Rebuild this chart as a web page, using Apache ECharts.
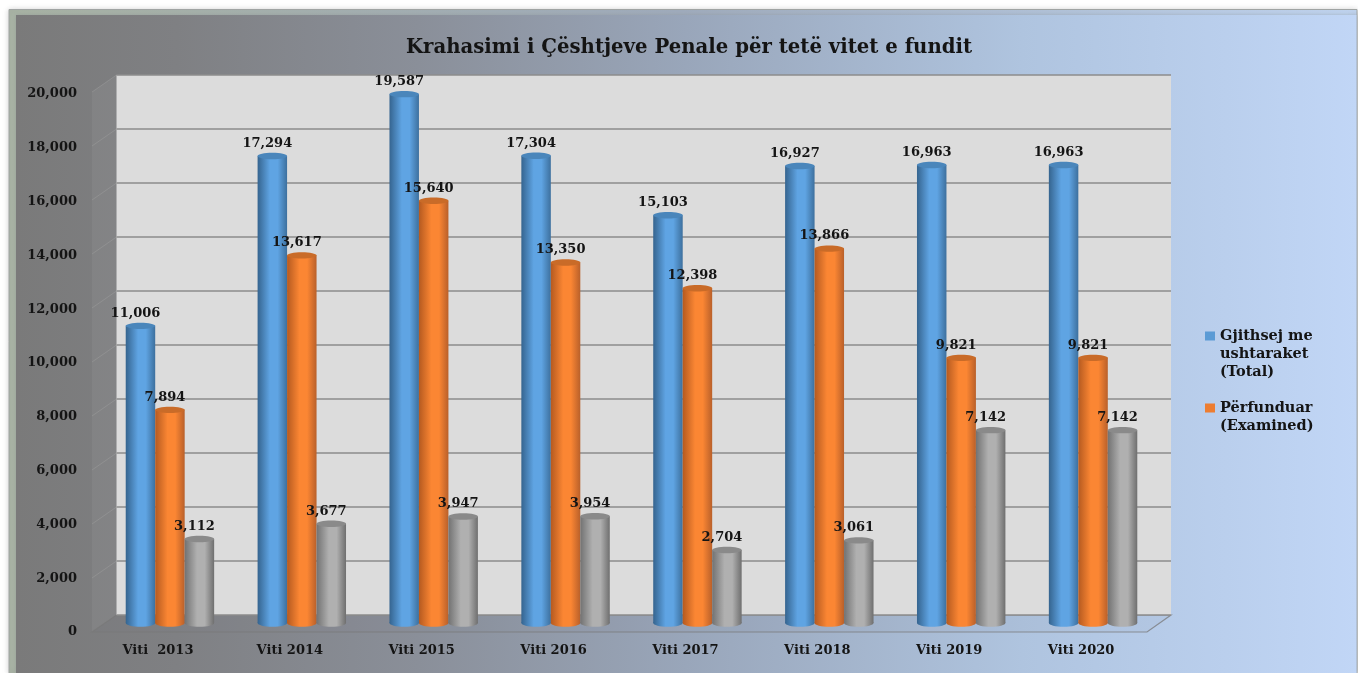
<!DOCTYPE html>
<html><head><meta charset="utf-8">
<style>html,body{margin:0;padding:0;background:#fff}#c{width:1358px;height:673px}</style>
<script src="https://cdn.jsdelivr.net/npm/echarts@6/dist/echarts.min.js"></script>
</head><body><div id="c"></div>
<script>
const categories = ["Viti  2013","Viti 2014","Viti 2015","Viti 2016","Viti 2017","Viti 2018","Viti 2019","Viti 2020"];
const totalValues = [11006,17294,19587,17304,15103,16927,16963,16963];
const examinedValues = [7894,13617,15640,13350,12398,13866,9821,9821];
const otherValues = [3112,3677,3947,3954,2704,3061,7142,7142];
const seriesNames = ["Gjithsej me\nushtaraket\n(Total)","Përfunduar\n(Examined)","Të tjera"];
const yTicks = [0,2000,4000,6000,8000,10000,12000,14000,16000,18000,20000];
const titleText = "Krahasimi i Çështjeve Penale për tetë vitet e fundit";

const FONT = '"DejaVu Serif"';
const INK = '#141414';
const back = {l:116.5,t:75,w:1054.5,h:540};
const front = {l:92,t:92,w:1055,h:540};
const labelGrid = {l:92,t:94,w:1055,h:538};
const bars = {l:104,t:83,w:1055,h:540};
const palettes = [
  {edgeL:'#35648f',mid:'#5fa4e3',edgeR:'#3d709e',cap:'#4a86bb'},
  {edgeL:'#b55a20',mid:'#fb8633',edgeR:'#b9602a',cap:'#c96b28'},
  {edgeL:'#727272',mid:'#b0b0b0',edgeR:'#6f6f6f',cap:'#8a8a8a'}
];
function hGrad(p){return {type:'linear',x:0,y:0,x2:1,y2:0,colorStops:[
  {offset:0,color:p.edgeL},{offset:.42,color:p.mid},{offset:.68,color:p.mid},{offset:1,color:p.edgeR}]};}

function cylinder(params,api){
  const si=params.seriesIndex, i=api.value(0), v=api.value(1);
  const band=api.size([1,0])[0], w=band*0.2235;
  const base=api.coord([i,0]), top=api.coord([i,v]);
  const cx=base[0]+(si-1)*w, x=cx-w/2, p=palettes[si];
  return {type:'group',children:[
    {type:'ellipse',shape:{cx:cx,cy:base[1],rx:w/2,ry:3.8},style:{fill:hGrad(p)}},
    {type:'rect',shape:{x:x,y:top[1],width:w,height:base[1]-top[1]},style:{fill:hGrad(p)}},
    {type:'ellipse',shape:{cx:cx,cy:top[1],rx:w/2,ry:3.2},style:{fill:p.cap}},
    {type:'text',z2:50,style:{x:cx-5,y:top[1]-12.5,text:v.toLocaleString('en-US'),align:'center',verticalAlign:'middle',
      font:'bold 13px '+FONT,fill:INK}}
  ]};
}

const deco=[];
deco.push({type:'rect',z:-10,shape:{x:9,y:9.5,width:1348,height:664},
  style:{fill:{type:'linear',x:0,y:0,x2:1,y2:0,colorStops:[{offset:0,color:'#aab5a6'},{offset:.5,color:'#a2aebf'},{offset:1,color:'#c2d7f3'}]},
  stroke:'#a0a4a3',lineWidth:1,shadowBlur:6,shadowColor:'rgba(0,0,0,.18)'}});
deco.push({type:'rect',z:-9,shape:{x:16,y:15,width:1340.5,height:658},
  style:{fill:{type:'linear',x:0,y:0,x2:1,y2:0,colorStops:[
    {offset:0,color:'#7a7a7a'},{offset:.12,color:'#7f8083'},{offset:.3,color:'#8a8f99'},{offset:.5,color:'#99a6ba'},{offset:.75,color:'#afc4df'},{offset:1,color:'#c1d6f6'}]},
  shadowBlur:4,shadowColor:'rgba(130,135,135,.5)'}});
const dy=front.t-back.t;
deco.push({type:'polygon',z:-2,shape:{points:[[front.l,front.t],[back.l,back.t],[back.l,back.t+back.h],[front.l,front.t+front.h]]},
  style:{fill:'rgba(255,255,255,.05)'}});
deco.push({type:'polygon',z:-2,shape:{points:[[back.l,back.t+back.h],[back.l+back.w,back.t+back.h],[front.l+front.w,front.t+front.h],[front.l,front.t+front.h]]},
  style:{fill:'rgba(120,125,135,.06)',stroke:'rgba(120,120,120,.75)',lineWidth:1.2}});
yTicks.forEach(t=>{
  const y=back.t+back.h*(1-t/20000);
  if(t>0) deco.push({type:'line',z:-1,shape:{x1:back.l,y1:y,x2:front.l,y2:y+dy},style:{stroke:'rgba(160,160,160,.45)',lineWidth:1}});
});

const mkSeries=(name,data,i)=>({type:'custom',name:name,xAxisIndex:2,yAxisIndex:2,renderItem:cylinder,
  itemStyle:{color:['#5b9bd5','#ed7d31','#a5a5a5'][i]},
  encode:{x:0,y:1},data:data.map((v,k)=>[k,v]),z:5+i});

const legendBase={orient:'vertical',left:1200,itemWidth:10,selectedMode:false,symbolKeepAspect:false,
  textStyle:{fontFamily:FONT,fontWeight:'bold',fontSize:14.5,color:INK,lineHeight:18}};
const chart=echarts.init(document.getElementById('c'),null,{renderer:'canvas'});
chart.setOption({
  animation:false,
  title:{text:titleText,left:684,top:33,textAlign:'center',textStyle:{fontFamily:FONT,fontWeight:'bold',fontSize:19.7,color:INK}},
  legend:[
    Object.assign({},legendBase,{top:322,itemHeight:54,data:[{name:seriesNames[0],icon:'path://M0 0L0 0M0 54L0 54M0 4.5H10V13.5H0Z'}]}),
    Object.assign({},legendBase,{top:394,itemHeight:36,data:[{name:seriesNames[1],icon:'path://M0 0L0 0M0 36L0 36M0 4.5H10V13.5H0Z'}]})
  ],
  graphic:{elements:deco},
  grid:[
    {left:back.l,top:back.t,width:back.w,height:back.h,show:true,backgroundColor:'#dcdcdc',borderWidth:0},
    {left:labelGrid.l,top:labelGrid.t,width:labelGrid.w,height:labelGrid.h},
    {left:bars.l,top:bars.t,width:bars.w,height:bars.h}
  ],
  xAxis:[
    {type:'category',gridIndex:0,data:categories,axisLine:{show:false},axisTick:{show:false},axisLabel:{show:false}},
    {type:'category',gridIndex:1,data:categories,axisLine:{show:false},axisTick:{show:false},
      axisLabel:{interval:0,margin:12,fontFamily:FONT,fontWeight:'bold',fontSize:13,color:INK}},
    {type:'category',gridIndex:2,data:categories,axisLine:{show:false},axisTick:{show:false},axisLabel:{show:false}}
  ],
  yAxis:[
    {type:'value',gridIndex:0,min:0,max:20000,interval:2000,axisLine:{show:false},axisTick:{show:false},axisLabel:{show:false},
      splitLine:{show:true,lineStyle:{color:'#8c8c8c',width:1.6}}},
    {type:'value',gridIndex:1,min:0,max:20000,interval:2000,axisLine:{show:false},axisTick:{show:false},splitLine:{show:false},
      axisLabel:{margin:15,fontFamily:FONT,fontWeight:'bold',fontSize:13,color:INK,formatter:v=>v.toLocaleString('en-US')}},
    {type:'value',gridIndex:2,min:0,max:20000,interval:2000,axisLine:{show:false},axisTick:{show:false},axisLabel:{show:false},splitLine:{show:false}}
  ],
  series:[mkSeries(seriesNames[0],totalValues,0),mkSeries(seriesNames[1],examinedValues,1),mkSeries(seriesNames[2],otherValues,2)]
});
</script></body></html>
